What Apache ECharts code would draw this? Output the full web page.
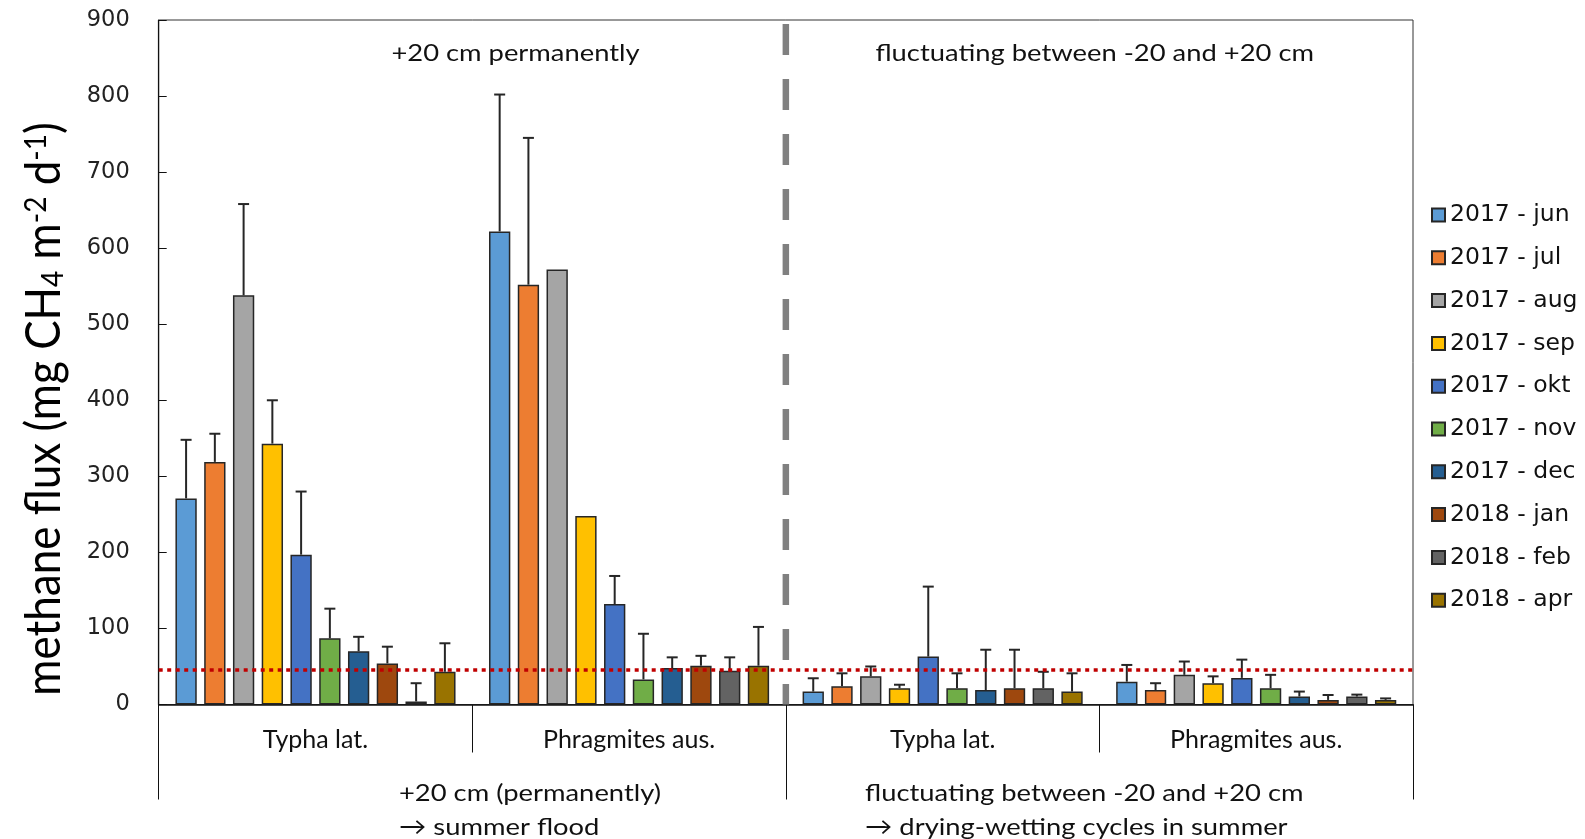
<!DOCTYPE html>
<html>
<head>
<meta charset="utf-8">
<script src="https://cdn.jsdelivr.net/npm/echarts@6/dist/echarts.min.js"></script>
<style>
html, body { margin: 0; padding: 0; background: #fff; }
#chart { width: 1585px; height: 839px; }
</style>
</head>
<body>
<div id="chart"></div>
<script>
// categories
var months = ['2017 - jun', '2017 - jul', '2017 - aug', '2017 - sep', '2017 - okt',
              '2017 - nov', '2017 - dec', '2018 - jan', '2018 - feb', '2018 - apr'];
var groups = ['Typha lat.', 'Phragmites aus.', 'Typha lat.', 'Phragmites aus.'];
var treatments = ['+20 cm (permanently)', 'fluctuating between -20 and +20 cm'];
var colors = ['#5B9BD5', '#ED7D31', '#A5A5A5', '#FFC000', '#4472C4',
              '#70AD47', '#255E91', '#9E480E', '#636363', '#997300'];

// mean flux per month (jun .. apr), one array per plant / water level
var typhaPermMean = [271, 319, 538, 343, 197, 87, 70, 54, 4, 43];
var phragPermMean = [622, 552, 572, 248, 132, 33, 48, 51, 44.5, 51];
var typhaFlucMean = [17, 24, 37, 21.5, 63, 21.5, 19, 21.5, 21.5, 17];
var phragFlucMean = [30, 19, 39, 28, 35, 21.5, 10.5, 6, 10.5, 6];

// upper error (sd), null = no bar drawn
var typhaPermSd = [77, 37, 120, 57, 83, 39, 19, 22, 24, 37.5];
var phragPermSd = [180, 193, null, null, 37, 60, 14, 13, 17.5, 51];
var typhaFlucSd = [17.5, 17, 13, 4.5, 92, 19.5, 53, 50.5, 21.5, 24];
var phragFlucSd = [22, 9, 17.5, 9, 24, 17.5, 6.5, 6.5, 2.5, 2];

var threshold = 46;
var yMin = 0, yMax = 900, yStep = 100;

var meanByGroup = [typhaPermMean, phragPermMean, typhaFlucMean, phragFlucMean];
var sdByGroup = [typhaPermSd, phragPermSd, typhaFlucSd, phragFlucSd];

var BAR_W = 21.3, BAR_GAP = 0.35;
var TXT_FONT = 'Lato, "Noto Sans", sans-serif';
var NUM_FONT = '"DejaVu Sans", sans-serif';
var TXT_SCALE = 1.14;   // the source text looks a bit stretched sideways

var chart = echarts.init(document.getElementById('chart'));

var series = months.map(function (m, i) {
    return {
        name: m,
        type: 'bar',
        barWidth: BAR_W,
        barGap: (BAR_GAP * 100) + '%',
        itemStyle: { color: colors[i], borderColor: '#262626', borderWidth: 1.5 },
        data: meanByGroup.map(function (g) { return g[i]; })
    };
});

// red dotted reference line
series[0].markLine = {
    silent: true,
    symbol: 'none',
    label: { show: false },
    lineStyle: { color: '#C00000', type: [4, 4.5], width: 3.5 },
    data: [{ yAxis: threshold }]
};

var errData = [];
for (var g = 0; g < groups.length; g++) {
    for (var i = 0; i < months.length; i++) {
        if (sdByGroup[g][i] != null) {
            errData.push([g, i, meanByGroup[g][i], sdByGroup[g][i]]);
        }
    }
}

series.push({
    type: 'custom',
    silent: true,
    z: 3,
    encode: { x: 0, y: 2 },
    data: errData,
    renderItem: function (params, api) {
        var g = api.value(0), i = api.value(1);
        var base = api.coord([g, api.value(2)]);
        var top = api.coord([g, api.value(2) + api.value(3)]);
        var x = base[0] + (i - 4.5) * BAR_W * (1 + BAR_GAP);
        var st = { stroke: '#262626', lineWidth: 2 };
        return {
            type: 'group',
            children: [
                { type: 'line', shape: { x1: x, y1: base[1], x2: x, y2: top[1] }, style: st },
                { type: 'line', shape: { x1: x - 5.5, y1: top[1], x2: x + 5.5, y2: top[1] }, style: st }
            ]
        };
    }
});

// grey dashed divider between the two water regimes
series.push({
    type: 'custom',
    silent: true,
    z: 1,
    encode: { x: 0, y: 1 },
    data: [[1, 0]],
    renderItem: function (params, api) {
        var cs = params.coordSys;
        var x = api.coord([api.value(0), 0])[0] + api.size([1, 0])[0] / 2;
        return {
            type: 'line',
            shape: { x1: x, y1: cs.y + 4, x2: x, y2: cs.y + cs.height },
            style: { stroke: '#808080', lineWidth: 6.5, lineDash: [31, 24] }
        };
    }
});

function note(x, y, text, align) {
    return {
        type: 'text', x: x, y: y, scaleX: TXT_SCALE,
        style: { text: text, textAlign: align, textVerticalAlign: 'middle',
                 fontFamily: TXT_FONT, fontSize: 24, fill: '#111' }
    };
}

var option = {
    animation: false,
    backgroundColor: '#fff',
    grid: {
        left: 158.7, right: 172, top: 20, bottom: 134.5,
        show: true, borderColor: '#333', borderWidth: 1, backgroundColor: 'transparent'
    },
    legend: {
        orient: 'vertical',
        left: 1426,
        top: 198,
        icon: 'rect',
        itemWidth: 13,
        itemHeight: 13,
        itemGap: 18.8,
        textStyle: { fontFamily: NUM_FONT, fontSize: 23.5, lineHeight: 24, color: '#111' },
        data: months
    },
    xAxis: [{
        type: 'category',
        data: groups,
        axisLine: { lineStyle: { color: '#111', width: 1.5 } },
        axisTick: { show: true, interval: 0, length: 48, lineStyle: { color: '#111' } },
        axisLabel: { interval: 0, margin: 22.5, fontFamily: TXT_FONT, fontSize: 25, color: '#111' }
    }, {
        type: 'category',
        position: 'bottom',
        data: treatments,
        axisLine: { show: false },
        axisTick: { show: true, interval: 0, length: 95, lineStyle: { color: '#111' } },
        axisLabel: { show: false },
        splitLine: { show: false }
    }],
    yAxis: {
        type: 'value',
        min: yMin, max: yMax, interval: yStep,
        axisLine: { show: true, lineStyle: { color: '#111', width: 1.2 } },
        axisTick: { show: true, inside: true, length: 8, lineStyle: { color: '#111' } },
        splitLine: { show: false },
        axisLabel: { margin: 29, fontFamily: NUM_FONT, fontSize: 22.5, color: '#222' }
    },
    graphic: [{
        type: 'text',
        x: 45, y: 409,
        rotation: Math.PI / 2,
        scaleY: 1.08,
        style: {
            text: 'methane flux (mg CH{sub|4} m{sup|-2} d{sup|-1})',
            textAlign: 'center', textVerticalAlign: 'middle',
            fontFamily: TXT_FONT, fontSize: 44, fill: '#000',
            rich: {
                sub: { fontFamily: TXT_FONT, fontSize: 28, verticalAlign: 'bottom', padding: [16, 0, 0, 0] },
                sup: { fontFamily: TXT_FONT, fontSize: 28, verticalAlign: 'top', padding: [0, 0, 16, 0] }
            }
        }
    },
        note(515.5, 53.6, '+20 cm permanently', 'center'),
        note(1094.7, 53.6, 'fluctuating between -20 and +20 cm', 'center'),
        note(399, 793, treatments[0], 'left'),
        note(399, 827, '\u2192 summer flood', 'left'),
        note(865, 793, treatments[1], 'left'),
        note(865, 827, '\u2192 drying-wetting cycles in summer', 'left')
    ],
    series: series
};

chart.setOption(option);
</script>
</body>
</html>
